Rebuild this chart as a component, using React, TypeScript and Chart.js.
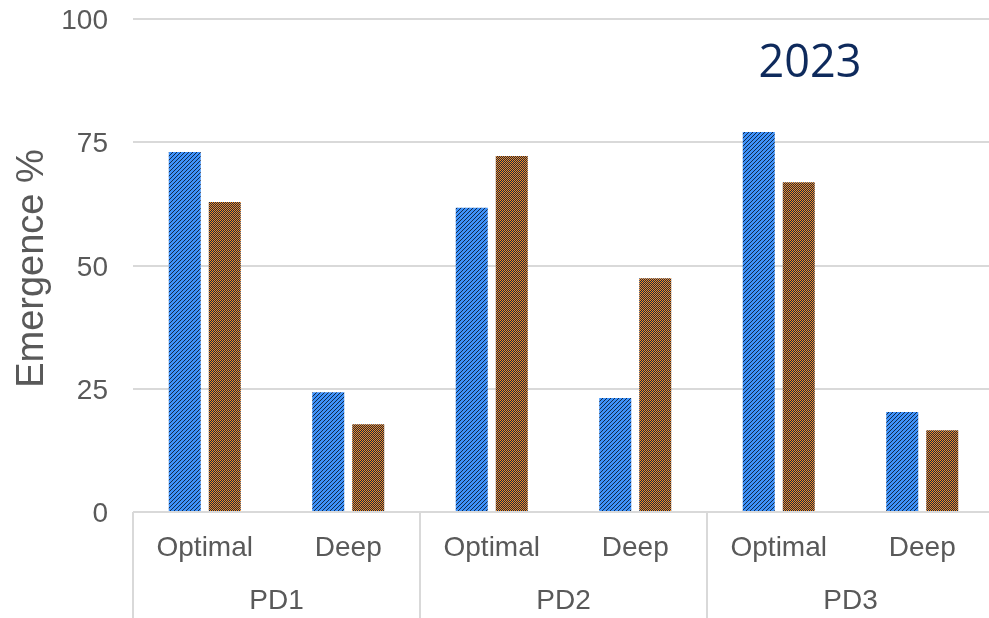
import React, { useEffect, useRef } from "react";
import { Chart, registerables } from "chart.js";

Chart.register(...registerables);

const subCategories = ["Optimal", "Deep", "Optimal", "Deep", "Optimal", "Deep"];
const groups = ["PD1", "PD2", "PD3"];
const seriesBlue = [73.0, 24.3, 61.7, 23.1, 77.1, 20.3];
const seriesOrange = [62.9, 17.8, 72.2, 47.4, 66.9, 16.6];
const yTicks = [0, 25, 50, 75, 100];
const yTitle = "Emergence %";
const chartTitle = "2023";

function makePattern(kind: "diag" | "check") {
  const c = document.createElement("canvas");
  const size = 4;
  c.width = size;
  c.height = size;
  const g = c.getContext("2d")!;
  if (kind === "diag") {
    g.fillStyle = "#3E92FA";
    g.fillRect(0, 0, size, size);
    g.fillStyle = "#12294A";
    for (let y = 0; y < size; y++) {
      for (let x = 0; x < size; x++) {
        if ((x + y) % 4 === 0) g.fillRect(x, y, 1, 1);
      }
    }
  } else {
    g.fillStyle = "#12294A";
    g.fillRect(0, 0, size, size);
    g.fillStyle = "#FF8A1A";
    for (let y = 0; y < size; y++) {
      for (let x = 0; x < size; x++) {
        if ((x + y) % 2 === 0) g.fillRect(x, y, 1, 1);
      }
    }
  }
  return g.createPattern(c, "repeat")!;
}

const FONT = "'Liberation Sans', Arial, sans-serif";

const overlay = {
  id: "overlay",
  afterDraw(chart: any) {
    const ctx = chart.ctx as CanvasRenderingContext2D;
    const x = chart.scales.x;
    const y = chart.scales.y;
    const area = chart.chartArea;
    const catW = (area.right - area.left) / subCategories.length;
    ctx.save();
    ctx.strokeStyle = "#D9D9D9";
    ctx.lineWidth = 2;
    for (let i = 0; i <= groups.length; i++) {
      const px = Math.round(area.left + i * 2 * catW);
      ctx.beginPath();
      ctx.moveTo(px, area.bottom);
      ctx.lineTo(px, 618);
      ctx.stroke();
    }
    ctx.fillStyle = "#595959";
    ctx.textBaseline = "alphabetic";
    ctx.font = `28px ${FONT}`;
    ctx.textAlign = "right";
    yTicks.forEach((v) => {
      ctx.fillText(String(v), 108, y.getPixelForValue(v) + 10);
    });
    ctx.textAlign = "center";
    subCategories.forEach((s, i) => {
      ctx.fillText(s, x.getPixelForValue(i), 556);
    });
    groups.forEach((gname, i) => {
      const cx = area.left + (2 * i + 1) * catW;
      ctx.fillText(gname, cx, 609);
    });
    ctx.save();
    ctx.translate(43, (area.top + area.bottom) / 2 + 3);
    ctx.rotate(-Math.PI / 2);
    ctx.font = `38px ${FONT}`;
    ctx.textAlign = "center";
    ctx.fillText(yTitle, 0, 0);
    ctx.restore();
    ctx.fillStyle = "#0E2A5C";
    ctx.font = `45px 'Open Sans', 'Noto Sans', sans-serif`;
    ctx.textAlign = "center";
    ctx.fillText(chartTitle, 810, 77);
    ctx.restore();
  },
};

export default function App() {
  const ref = useRef<HTMLCanvasElement>(null);
  useEffect(() => {
    const canvas = ref.current!;
    const chart = new Chart(canvas, {
      type: "bar",
      data: {
        labels: subCategories,
        datasets: [
          {
            label: "A",
            data: seriesBlue,
            backgroundColor: makePattern("diag"),
            borderWidth: 0,
            categoryPercentage: 0.5575,
            barPercentage: 0.8,
          },
          {
            label: "B",
            data: seriesOrange,
            backgroundColor: makePattern("check"),
            borderWidth: 0,
            categoryPercentage: 0.5575,
            barPercentage: 0.8,
          },
        ],
      },
      options: {
        responsive: false,
        animation: false,
        devicePixelRatio: 1,
        layout: { padding: { top: 19, bottom: 106, left: 0, right: 0 } },
        plugins: {
          legend: { display: false },
          tooltip: { enabled: false },
        },
        scales: {
          x: {
            grid: { display: false },
            border: { display: false },
            ticks: { display: false },
            afterFit: (scale: any) => {
              scale.height = 0;
              scale.paddingLeft = 0;
              scale.paddingRight = 0;
            },
          },
          y: {
            min: 0,
            max: 100,
            afterBuildTicks: (scale: any) => {
              scale.ticks = yTicks.map((v) => ({ value: v }));
            },
            afterFit: (scale: any) => {
              scale.width = 133;
              scale.paddingTop = 0;
              scale.paddingBottom = 0;
            },
            grid: { color: "#D9D9D9", lineWidth: 2, drawTicks: false },
            border: { display: false },
            ticks: { display: false },
          },
        },
      },
      plugins: [overlay],
    });
    return () => chart.destroy();
  }, []);
  return (
    <div
      style={{
        position: "fixed",
        left: 0,
        top: 0,
        width: 989,
        height: 618,
        overflow: "hidden",
        background: "#fff",
      }}
    >
      <canvas ref={ref} width={994} height={618} style={{ display: "block" }} />
    </div>
  );
}
